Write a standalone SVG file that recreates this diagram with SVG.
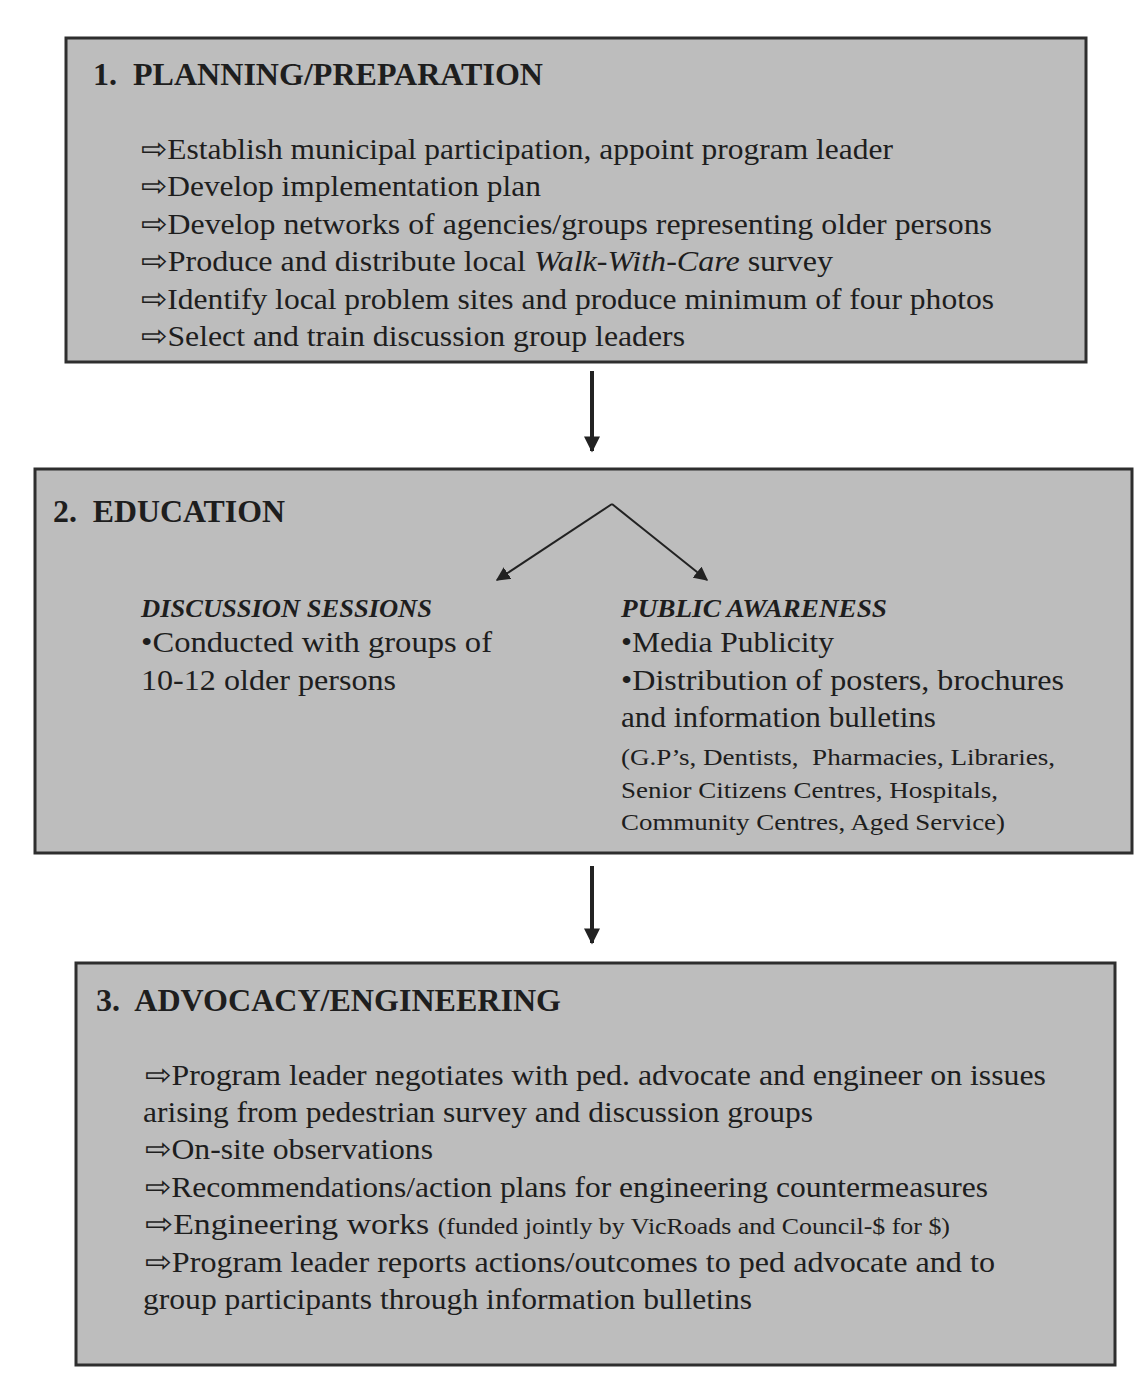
<svg xmlns="http://www.w3.org/2000/svg" width="1141" height="1378" viewBox="0 0 1141 1378">
<style>
.box{fill:#bdbdbd;stroke:#2e2e2e;stroke-width:3}
.t{fill:#1e1e1e}
.h{font-size:31px;font-weight:bold}
.b{font-size:30px}
.s{font-size:23px}
.bi{font-size:25px;font-weight:bold;font-style:italic}
.conn{stroke:#222;fill:none}
</style>
<defs>
<marker id="big" viewBox="0 0 10 10" refX="9" refY="5" markerWidth="4.5" markerHeight="4" orient="auto" markerUnits="strokeWidth"><path d="M0,0 L10,5 L0,10 z" fill="#222"/></marker>
<marker id="sm" viewBox="0 0 10 10" refX="9" refY="5" markerWidth="7" markerHeight="7" orient="auto" markerUnits="strokeWidth"><path d="M0,0 L10,5 L0,10 z" fill="#222"/></marker>
</defs>
<rect width="1141" height="1378" fill="#fff"/>
<g id="node1" font-family="'Liberation Serif', 'Times New Roman', serif">
<rect class="box" x="66" y="38" width="1020" height="324"/>
<text class="t h" x="93" y="85" textLength="450" lengthAdjust="spacingAndGlyphs">1.&#160; PLANNING/PREPARATION</text>
<text class="t b" x="141" y="159" textLength="752" lengthAdjust="spacingAndGlyphs">⇨Establish municipal participation, appoint program leader</text>
<text class="t b" x="141" y="196" textLength="400" lengthAdjust="spacingAndGlyphs">⇨Develop implementation plan</text>
<text class="t b" x="141" y="234" textLength="851" lengthAdjust="spacingAndGlyphs">⇨Develop networks of agencies/groups representing older persons</text>
<text class="t b" x="141" y="271" textLength="692" lengthAdjust="spacingAndGlyphs">⇨Produce and distribute local <tspan font-style="italic">Walk-With-Care</tspan> survey</text>
<text class="t b" x="141" y="309" textLength="853" lengthAdjust="spacingAndGlyphs">⇨Identify local problem sites and produce minimum of four photos</text>
<text class="t b" x="141" y="346" textLength="544" lengthAdjust="spacingAndGlyphs">⇨Select and train discussion group leaders</text>
</g>
<g id="node2" font-family="'Liberation Serif', 'Times New Roman', serif">
<rect class="box" x="35" y="469" width="1097" height="384"/>
<text class="t h" x="53" y="522" textLength="232" lengthAdjust="spacingAndGlyphs">2.&#160; EDUCATION</text>
<text class="t bi" x="141" y="617" textLength="291" lengthAdjust="spacingAndGlyphs">DISCUSSION SESSIONS</text>
<text class="t b" x="141" y="652" textLength="351" lengthAdjust="spacingAndGlyphs">•Conducted with groups of</text>
<text class="t b" x="141" y="690" textLength="255" lengthAdjust="spacingAndGlyphs">10-12 older persons</text>
<text class="t bi" x="621" y="617" textLength="266" lengthAdjust="spacingAndGlyphs">PUBLIC AWARENESS</text>
<text class="t b" x="621" y="652" textLength="213" lengthAdjust="spacingAndGlyphs">•Media Publicity</text>
<text class="t b" x="621" y="690" textLength="443" lengthAdjust="spacingAndGlyphs">•Distribution of posters, brochures</text>
<text class="t b" x="621" y="727" textLength="315" lengthAdjust="spacingAndGlyphs">and information bulletins</text>
<text class="t s" x="621" y="765" textLength="434" lengthAdjust="spacingAndGlyphs">(G.P’s, Dentists,&#160; Pharmacies, Libraries,</text>
<text class="t s" x="621" y="798" textLength="377" lengthAdjust="spacingAndGlyphs">Senior Citizens Centres, Hospitals,</text>
<text class="t s" x="621" y="830" textLength="384" lengthAdjust="spacingAndGlyphs">Community Centres, Aged Service)</text>
</g>
<g id="node3" font-family="'Liberation Serif', 'Times New Roman', serif">
<rect class="box" x="76" y="963" width="1039" height="402"/>
<text class="t h" x="96" y="1011" textLength="465" lengthAdjust="spacingAndGlyphs">3.&#160; ADVOCACY/ENGINEERING</text>
<text class="t b" x="145" y="1085" textLength="901" lengthAdjust="spacingAndGlyphs">⇨Program leader negotiates with ped. advocate and engineer on issues</text>
<text class="t b" x="143" y="1122" textLength="670" lengthAdjust="spacingAndGlyphs">arising from pedestrian survey and discussion groups</text>
<text class="t b" x="145" y="1159" textLength="288" lengthAdjust="spacingAndGlyphs">⇨On-site observations</text>
<text class="t b" x="145" y="1197" textLength="843" lengthAdjust="spacingAndGlyphs">⇨Recommendations/action plans for engineering countermeasures</text>
<text class="t b" x="145" y="1234" textLength="805" lengthAdjust="spacingAndGlyphs">⇨Engineering works <tspan font-size="23px">(funded jointly by VicRoads and Council-$ for $)</tspan></text>
<text class="t b" x="145" y="1272" textLength="850" lengthAdjust="spacingAndGlyphs">⇨Program leader reports actions/outcomes to ped advocate and to</text>
<text class="t b" x="143" y="1309" textLength="609" lengthAdjust="spacingAndGlyphs">group participants through information bulletins</text>
</g>
<g id="connectors">
<line class="conn" x1="592" y1="371" x2="592" y2="451" stroke-width="4" marker-end="url(#big)"/>
<line class="conn" x1="592" y1="866" x2="592" y2="943" stroke-width="4" marker-end="url(#big)"/>
<polyline class="conn" points="612,504 497,580" stroke-width="2" marker-end="url(#sm)"/>
<polyline class="conn" points="612,504 707,580" stroke-width="2" marker-end="url(#sm)"/>
</g>
</svg>
